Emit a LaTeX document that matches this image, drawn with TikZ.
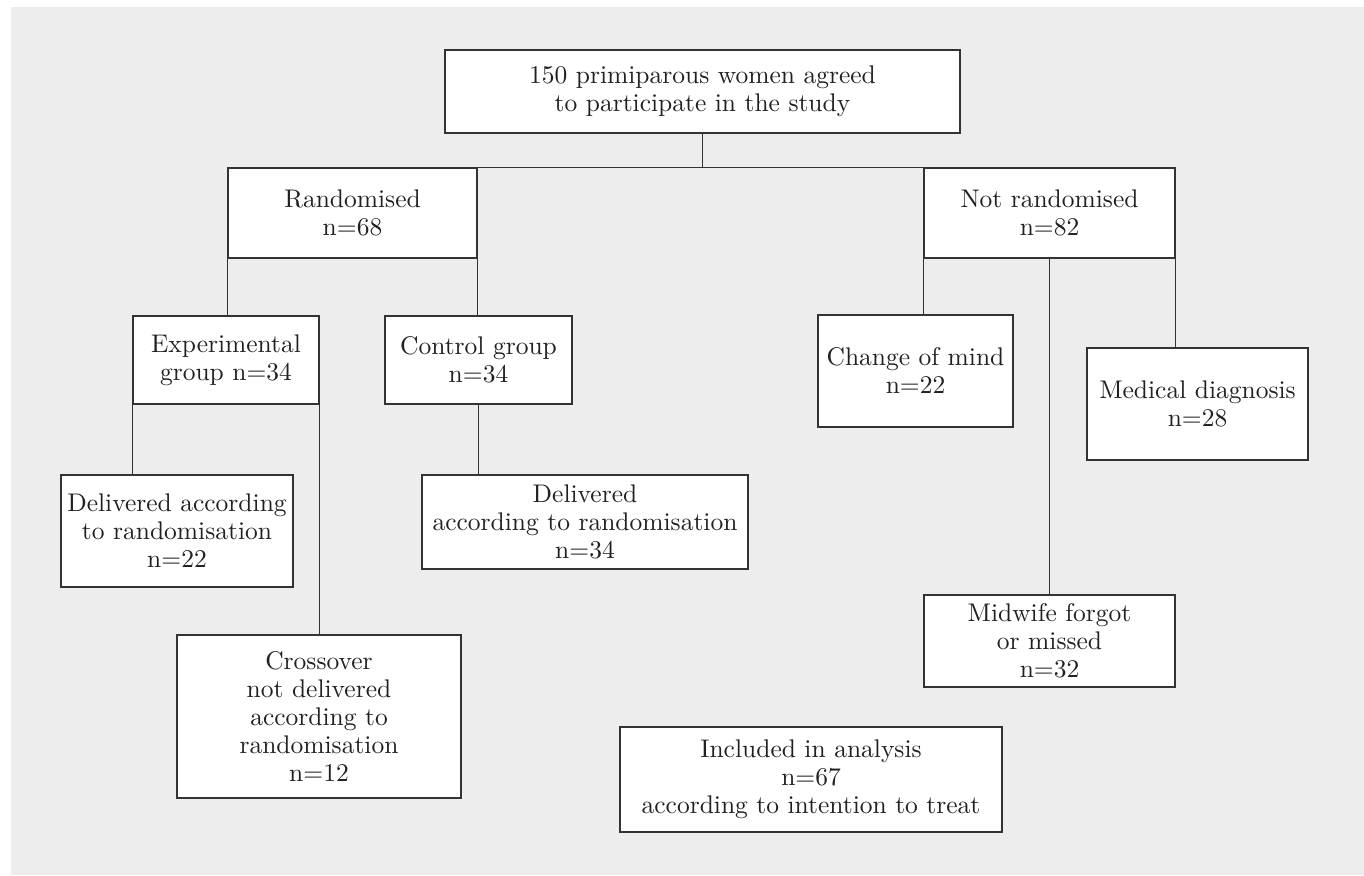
\documentclass[tikz,border=0pt]{standalone}
\usepackage{fontspec}
\setmainfont{lmroman10-regular}[Extension=.otf]
\definecolor{panelgray}{HTML}{EDEDED}
\definecolor{linegray}{HTML}{333333}
\definecolor{textgray}{HTML}{231F20}

\begin{document}
\begin{tikzpicture}[x=1pt, y=-1pt,
	every node/.style={draw=linegray, fill=white, line width=1.2pt, align=center, inner sep=0pt, text=textgray, font=\fontsize{25.5}{28}\selectfont},
	link/.style={draw=linegray, line width=1.2pt}]
	
	\useasboundingbox (0,0) rectangle (1364,875);
	\fill[panelgray] (11,7) rectangle (1364,875);
	
	\node[minimum width=515, minimum height=83] (all) at (702.5,91.5) {150 primiparous women agreed\\to participate in the study};
	\node[minimum width=249, minimum height=90] (rand) at (352.5,213) {Randomised\\n=68};
	\node[minimum width=251, minimum height=90] (notrand) at (1049.5,213) {Not randomised\\n=82};
	\node[minimum width=186, minimum height=88] (exp) at (226,360) {Experimental\\group n=34};
	\node[minimum width=187, minimum height=88] (ctrl) at (478.5,360) {Control group\\n=34};
	\node[minimum width=195, minimum height=112] (mind) at (915.5,371) {Change of mind\\n=22};
	\node[minimum width=221, minimum height=112] (medical) at (1197.5,404) {Medical diagnosis\\n=28};
	\node[minimum width=232, minimum height=112] (expdel) at (177,531) {Delivered according\\to randomisation\\n=22};
	\node[minimum width=326, minimum height=94] (ctrldel) at (585,522) {Delivered\\according to randomisation\\n=34};
	\node[minimum width=284, minimum height=163] (cross) at (319,716.5) {Crossover\\not delivered\\according to\\randomisation\\n=12};
	\node[minimum width=251, minimum height=92] (midwife) at (1049.5,641) {Midwife forgot\\or missed\\n=32};
	\node[minimum width=382, minimum height=105] (itt) at (811,779.5) {Included in analysis\\n=67\\according to intention to treat};
	
	\path[link] (all.south) -- (all.south |- rand.north);
	\path[link] (rand.north east) -- (notrand.north west);
	\path[link] (rand.south west) -- (rand.south west |- exp.north);
	\path[link] (rand.south east) -- (rand.south east |- ctrl.north);
	\path[link] (exp.south west) -- (exp.south west |- expdel.north);
	\path[link] (exp.south east) -- (exp.south east |- cross.north);
	\path[link] (ctrl.south) -- (ctrl.south |- ctrldel.north);
	\path[link] (notrand.south west) -- (notrand.south west |- mind.north);
	\path[link] (notrand.south) -- (notrand.south |- midwife.north);
	\path[link] (notrand.south east) -- (notrand.south east |- medical.north);
	
\end{tikzpicture}
\end{document}
